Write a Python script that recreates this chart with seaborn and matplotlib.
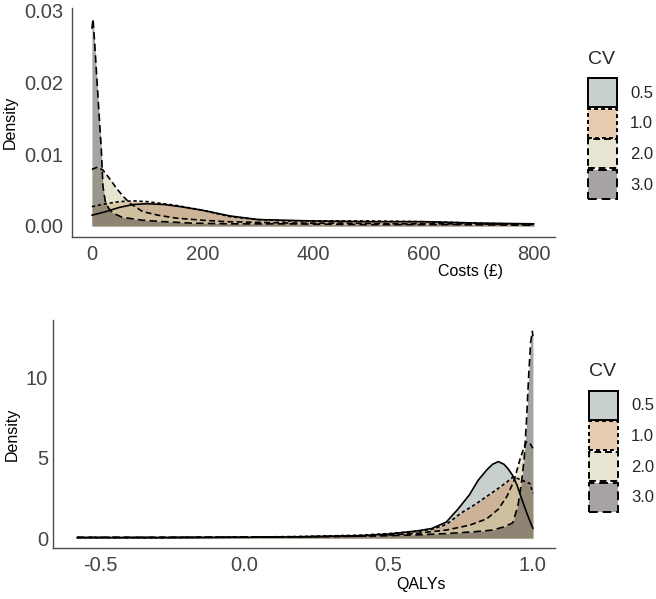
import numpy as np
import matplotlib
matplotlib.use("Agg")
import matplotlib.pyplot as plt
import seaborn as sns
from matplotlib.patches import Patch
from matplotlib.colors import to_rgba

# --- data (density curves) ---
cv_levels = ["0.5", "1.0", "2.0", "3.0"]
cv_colors = ["#91a1a1", "#d19961", "#d1cda5", "#514949"]
cv_styles = ["-", (0, (2, 1.6)), (0, (3.5, 2)), (0, (4.5, 2.5))]

cost_x_05 = [0, 25, 50, 75, 100, 130, 160, 200, 250, 300, 350, 400, 500, 600, 700, 800]
cost_y_05 = [0.0015, 0.0020, 0.0026, 0.0030, 0.0031, 0.0030, 0.0027, 0.0022, 0.0014,
             0.0009, 0.0008, 0.0007, 0.0006, 0.0006, 0.0004, 0.0003]
cost_x_10 = [0, 25, 50, 75, 100, 150, 200, 250, 300, 350, 400, 500, 600, 700, 800]
cost_y_10 = [0.0027, 0.0031, 0.0034, 0.0035, 0.0034, 0.0029, 0.0022, 0.0013, 0.0009,
             0.0007, 0.0007, 0.0007, 0.0006, 0.0004, 0.0002]
cost_x_20 = [0, 10, 20, 33, 45, 57, 70, 92, 120, 152, 200, 243, 300, 364, 450, 550, 650, 800]
cost_y_20 = [0.0079, 0.0082, 0.0078, 0.0065, 0.0052, 0.0041, 0.0031, 0.0020, 0.0015,
             0.0011, 0.0008, 0.0006, 0.0005, 0.0004, 0.0004, 0.0003, 0.0003, 0.0002]
cost_x_30 = [0, 2, 5, 9, 13, 17, 20, 24, 30, 38, 55, 92, 130, 180, 250, 350, 500, 650, 800]
cost_y_30 = [0.0275, 0.0289, 0.0255, 0.0205, 0.0155, 0.0107, 0.0055, 0.0035, 0.0025,
             0.0018, 0.0012, 0.0008, 0.0006, 0.0004, 0.0003, 0.0003, 0.0002, 0.0002, 0.0001]

qaly_x_05 = [-0.58, -0.3, 0.0, 0.2, 0.4, 0.5, 0.6, 0.65, 0.70, 0.74, 0.78, 0.81, 0.84,
             0.86, 0.88, 0.90, 0.915, 0.93, 0.945, 0.96, 0.98, 1.0]
qaly_y_05 = [0.03, 0.03, 0.05, 0.08, 0.15, 0.25, 0.45, 0.6, 1.0, 1.8, 2.7, 3.6, 4.25,
             4.6, 4.77, 4.6, 4.3, 3.9, 3.3, 2.5, 1.5, 0.6]
qaly_x_10 = [-0.58, -0.3, 0.0, 0.2, 0.4, 0.5, 0.6, 0.65, 0.7, 0.75, 0.8, 0.84, 0.88,
             0.91, 0.93, 0.95, 0.97, 0.99, 1.0]
qaly_y_10 = [0.03, 0.03, 0.06, 0.1, 0.18, 0.28, 0.42, 0.55, 0.85, 1.55, 2.1, 2.6, 3.1,
             3.5, 3.8, 3.7, 3.55, 3.4, 2.8]
qaly_x_20 = [-0.58, -0.3, 0.0, 0.2, 0.4, 0.5, 0.6, 0.7, 0.78, 0.84, 0.88, 0.91, 0.935,
             0.955, 0.97, 0.978, 0.99, 1.0]
qaly_y_20 = [0.04, 0.04, 0.06, 0.08, 0.12, 0.18, 0.3, 0.5, 0.8, 1.2, 1.8, 2.6, 3.6,
             4.9, 5.7, 6.0, 5.9, 5.6]
qaly_x_30 = [-0.58, -0.3, 0.0, 0.3, 0.5, 0.6, 0.7, 0.8, 0.86, 0.9, 0.93, 0.948, 0.96,
             0.97, 0.978, 0.985, 0.992, 0.998, 1.0]
qaly_y_30 = [0.05, 0.05, 0.06, 0.1, 0.15, 0.2, 0.28, 0.4, 0.5, 0.7, 0.95, 2.0, 3.4,
             5.0, 7.4, 10.0, 12.2, 12.9, 12.6]

cost_curves = [(cost_x_05, cost_y_05), (cost_x_10, cost_y_10),
               (cost_x_20, cost_y_20), (cost_x_30, cost_y_30)]
qaly_curves = [(qaly_x_05, qaly_y_05), (qaly_x_10, qaly_y_10),
               (qaly_x_20, qaly_y_20), (qaly_x_30, qaly_y_30)]

sns.set_theme(style="white")
plt.rcParams["font.family"] = ["Liberation Sans", "DejaVu Sans"]

TICK_COL = "#444444"
AXIS_COL = "#4d4d4d"


def draw_panel(ax, curves, xlabel, xlabel_pos, ypad, xlabpad, leg_anchor):
    for (xs, ys), col, ls in zip(curves, cv_colors, cv_styles):
        ax.fill_between(xs, ys, 0, color=col, alpha=0.5, linewidth=0)
        sns.lineplot(x=xs, y=ys, ax=ax, color="black", linestyle=ls,
                     linewidth=1.2, estimator=None, sort=False)
    sns.despine(ax=ax)
    for s in ["left", "bottom"]:
        ax.spines[s].set_color(AXIS_COL)
        ax.spines[s].set_linewidth(1.0)
    ax.tick_params(axis="both", length=0, labelsize=14.5, colors=TICK_COL)
    ax.tick_params(axis="x", pad=5.5)
    ax.tick_params(axis="y", pad=ypad)
    ax.set_ylabel("Density", fontsize=11.5, color="black", labelpad=4.5)
    ax.set_xlabel(xlabel, fontsize=11.5, color="black", x=xlabel_pos, labelpad=xlabpad)

    handles = [Patch(facecolor=to_rgba(c, 0.5), edgecolor="black", linestyle=ls,
                     linewidth=1.4, label=lab)
               for c, ls, lab in zip(cv_colors, cv_styles, cv_levels)]
    leg = ax.legend(handles=handles, title="CV", loc="upper left",
                    bbox_to_anchor=leg_anchor, bbox_transform=fig.transFigure,
                    frameon=False, fontsize=12, title_fontsize=14,
                    handlelength=1.75, handleheight=2.3,
                    labelspacing=0.1, handletextpad=0.8, borderaxespad=0)
    leg._legend_box.align = "left"
    leg._legend_box.sep = 7.5  # extra room between title and keys


fig = plt.figure(figsize=(6.56, 5.99), dpi=100)
ax1 = fig.add_axes([0.1098, 0.6043, 0.736, 0.3823])
ax2 = fig.add_axes([0.0808, 0.0851, 0.765, 0.3806])

draw_panel(ax1, cost_curves, "Costs (£)", 0.826, 6.5, 0, (0.8857, 0.9265))
ax1.set_xlim(-36, 838)
ax1.set_ylim(-0.00154, 0.0304)
ax1.set_xticks([0, 200, 400, 600, 800])
ax1.set_yticks([0.00, 0.01, 0.02, 0.03])
ax1.set_yticklabels(["0.00", "0.01", "0.02", "0.03"])

draw_panel(ax2, qaly_curves, "QALYs", 0.733, 3.6, 2, (0.8872, 0.4047))
ax2.set_xlim(-0.663, 1.076)
ax2.set_ylim(-0.62, 13.6)
ax2.set_xticks([-0.5, 0.0, 0.5, 1.0])
ax2.set_xticklabels(["-0.5", "0.0", "0.5", "1.0"])
ax2.set_yticks([0, 5, 10])

fig.savefig("out.png", dpi=100)
